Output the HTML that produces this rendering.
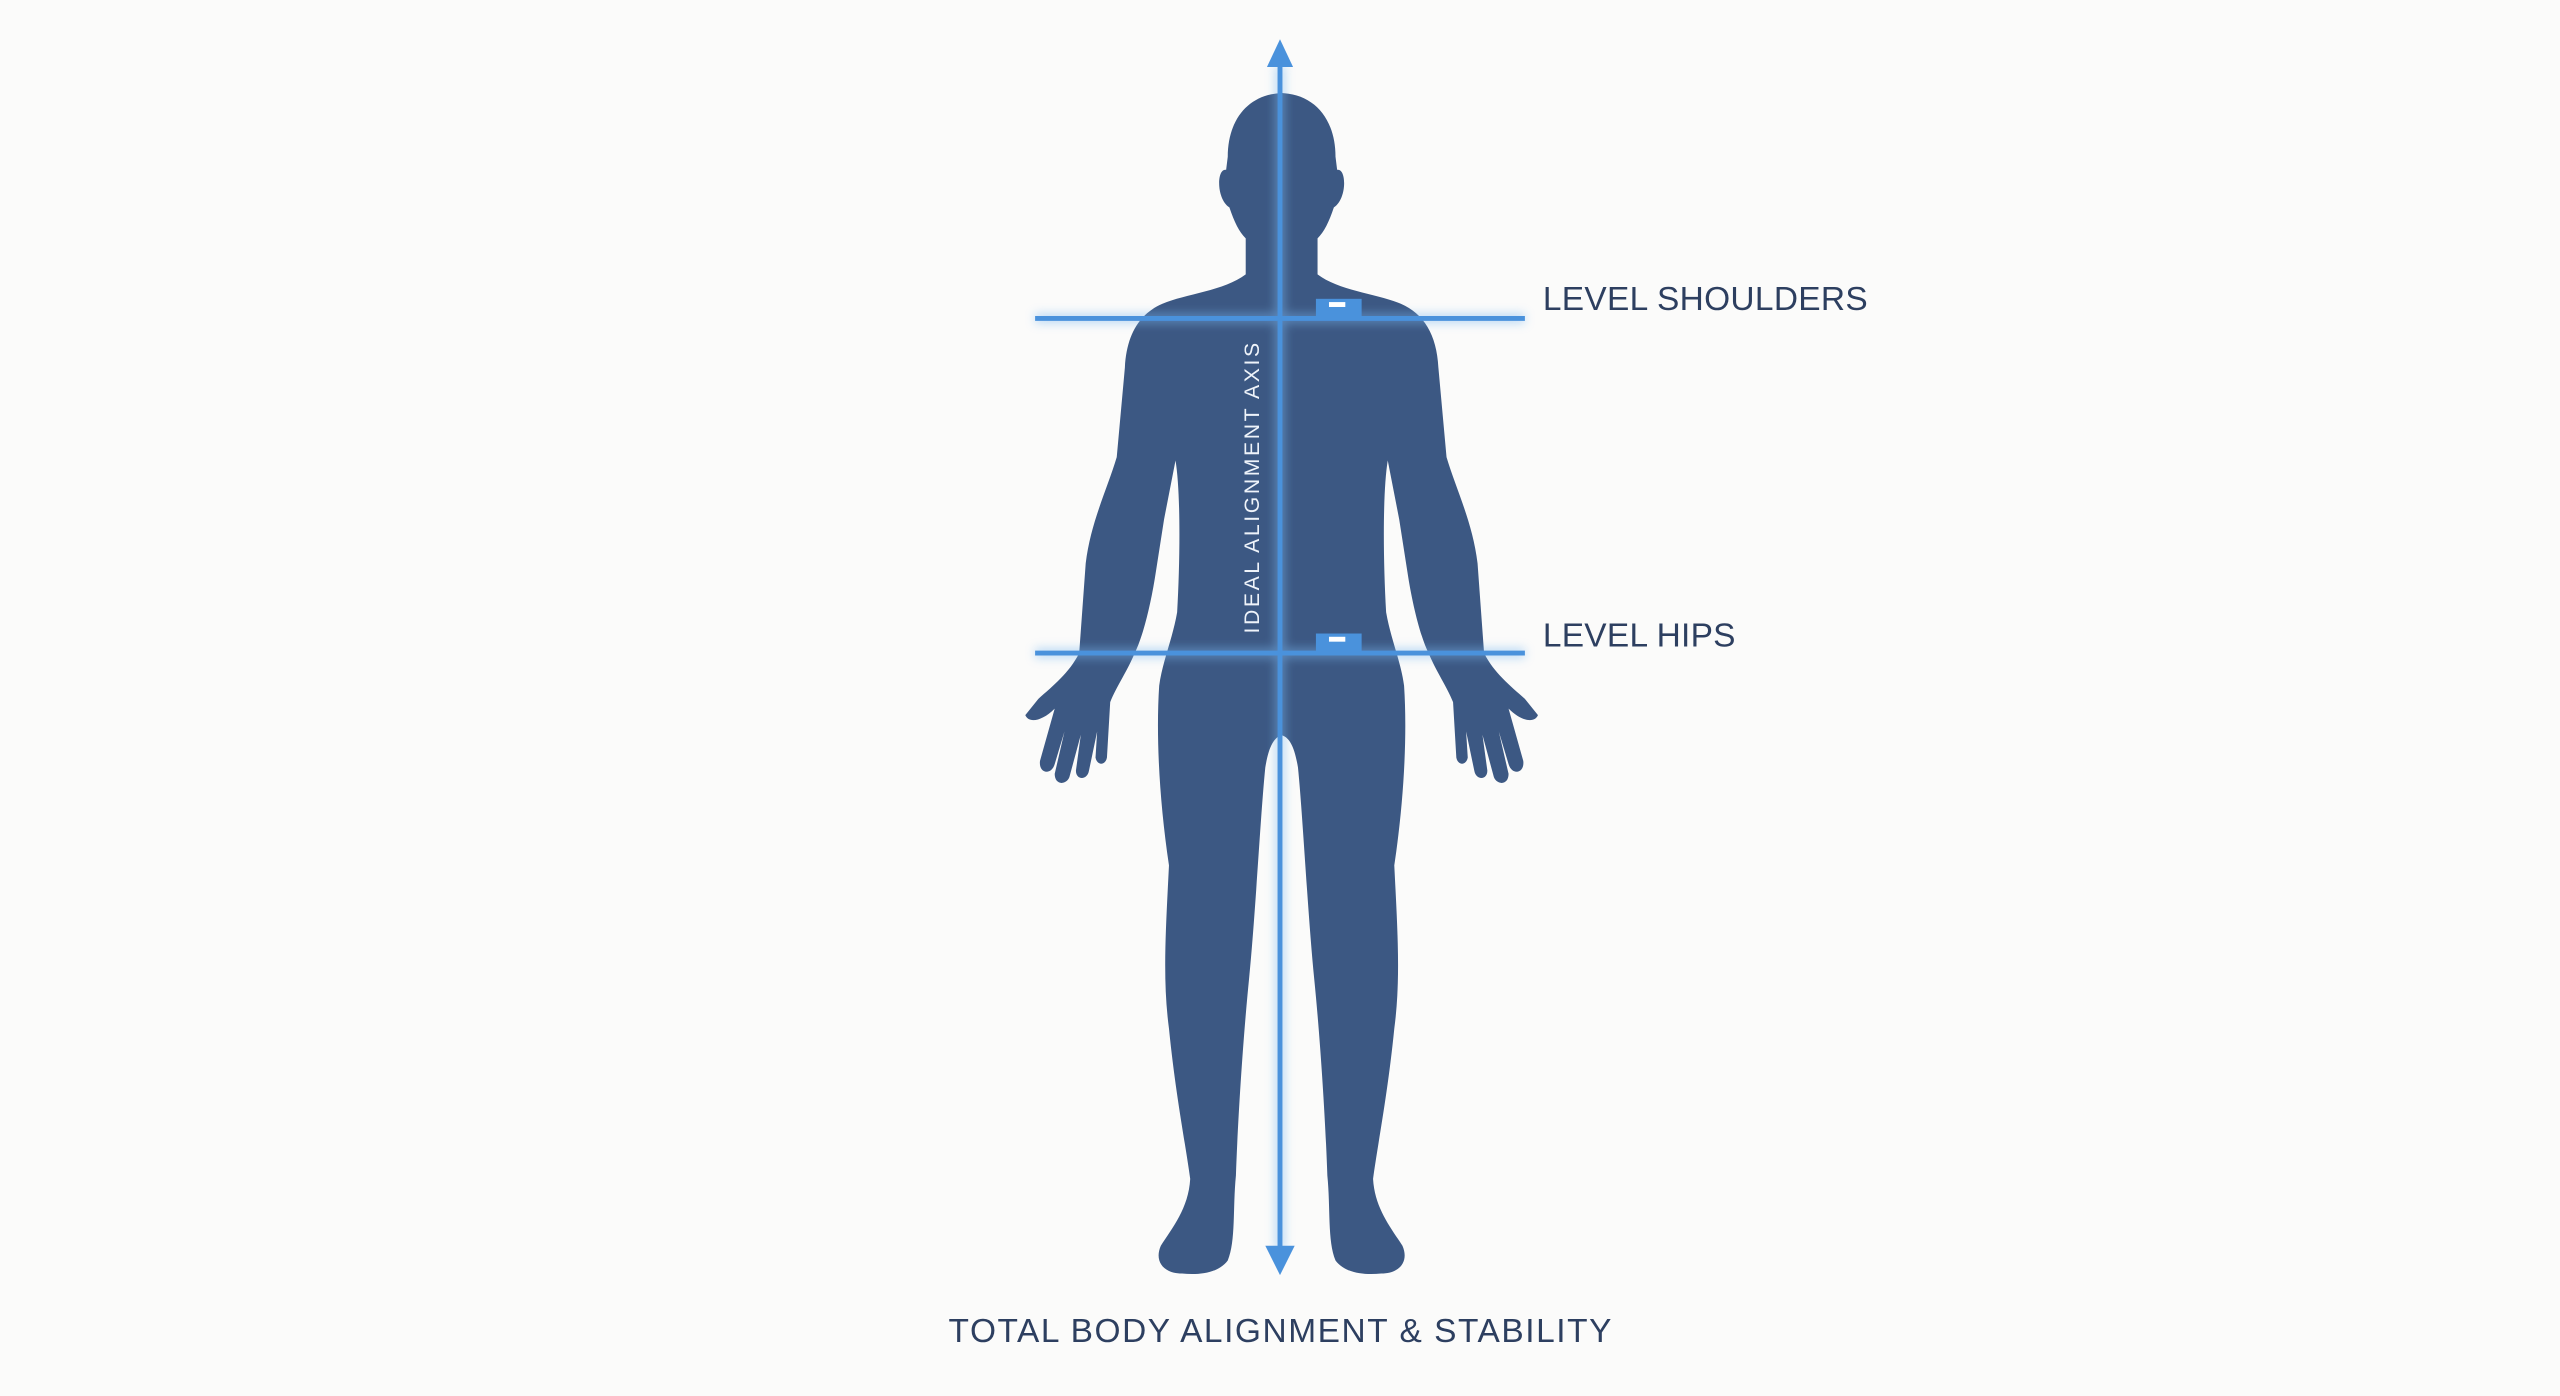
<!DOCTYPE html>
<html><head><meta charset="utf-8"><style>
html,body{margin:0;padding:0;background:#fbfbfa;}
svg{display:block}
</style></head><body>
<svg width="2560" height="1396" viewBox="0 0 1568 855" xmlns="http://www.w3.org/2000/svg">
<defs>
<filter id="glow" x="-50%" y="-50%" width="200%" height="200%"><feGaussianBlur stdDeviation="3"/></filter>
<g id="half">
<path d="M786 57 C766 57 752 72 752 96 L751 104 C745 103 745 122 753 127 C756 136 759 142 763 146 L763 168 C750 178 726 180 712 186 C698 192 690 205 689 225 L684 280 C678 300 668 320 665 345 L661 400 C655 412 645 420 636 428 L628 438 C630 443 638 442 646 434 L637 466 C636 474 644 475 646 468 L652 448 L646 474 C646 481 653 481 655 476 L662 450 L659 472 C659 478 666 478 667 472 L672 448 L671 464 C672 469 677 469 678 464 L680 430 C684 420 690 412 695 400 C700 390 705 370 708 350 L713 318 L720 282 C723 300 723 340 721 375 C718 392 712 405 710 420 C708 450 710 490 716 530 C714 570 712 600 716 630 C720 670 726 700 729 722 C728 740 718 752 711 763 C707 772 712 780 724 780 C734 781 746 780 752 772 C757 760 755 740 757 720 C758 690 761 640 765 600 C769 560 772 500 775 470 C777 458 780 451 786 450 Z"/>
</g>
</defs>
<g fill="#3c5883">
<use href="#half"/>
<use href="#half" transform="translate(1570,0) scale(-1,1)"/>
</g>
<g stroke="#7ab8f0" stroke-width="6" opacity="0.5" filter="url(#glow)">
<line x1="784" y1="40" x2="784" y2="765"/>
<line x1="634" y1="195" x2="934" y2="195"/>
<line x1="634" y1="400" x2="934" y2="400"/>
</g>
<g stroke="#4a92dc" stroke-width="3">
<line x1="784" y1="38" x2="784" y2="765"/>
<line x1="634" y1="195" x2="934" y2="195"/>
<line x1="634" y1="400" x2="934" y2="400"/>
</g>
<polygon points="784,24 776,41 792,41" fill="#4a92dc"/>
<polygon points="784,781 775,763 793,763" fill="#4a92dc"/>
<rect x="806" y="183" width="28" height="12" fill="#4a92dc"/>
<rect x="814" y="185" width="10" height="3" fill="#fff"/>
<rect x="806" y="388" width="28" height="12" fill="#4a92dc"/>
<rect x="814" y="390" width="10" height="3" fill="#fff"/>
<g font-family="Liberation Sans, sans-serif" fill="#2d3f60">
<text x="945" y="190" font-size="20.5" textLength="199">LEVEL SHOULDERS</text>
<text x="945" y="396" font-size="20.5" textLength="118">LEVEL HIPS</text>
<text x="581" y="822" font-size="20.5" textLength="406">TOTAL BODY ALIGNMENT &amp; STABILITY</text>
<text transform="translate(771,388) rotate(-90)" font-size="13" fill="#eef3fa" textLength="178">IDEAL ALIGNMENT AXIS</text>
</g>
</svg>
</body></html>
